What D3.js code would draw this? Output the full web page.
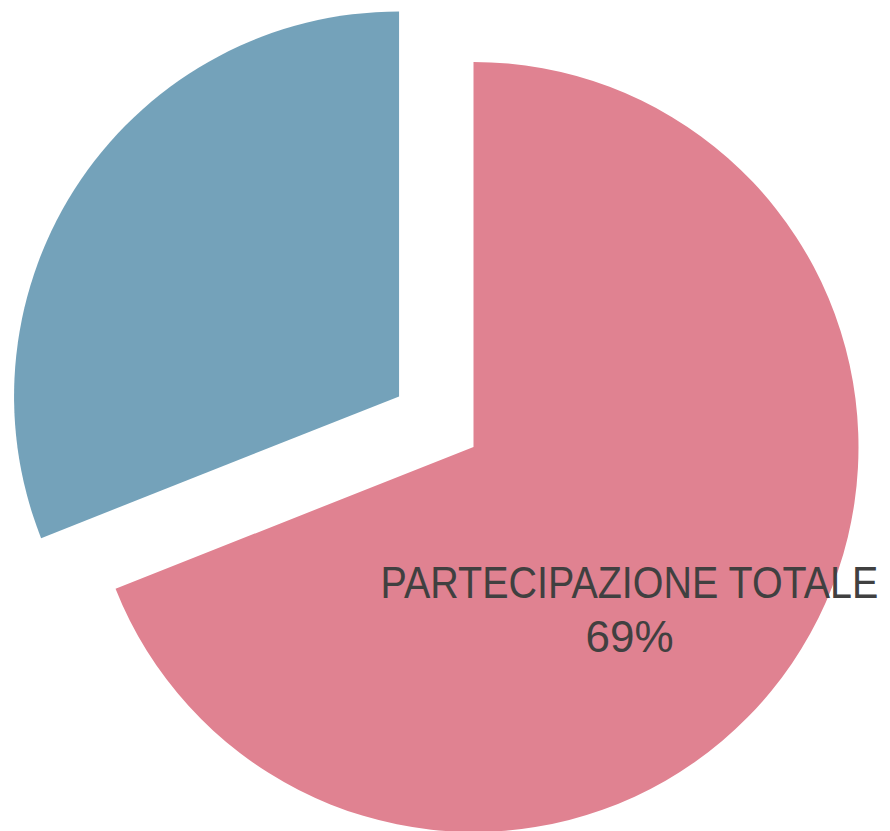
<!DOCTYPE html>
<html>
<head>
<meta charset="utf-8">
<script src="https://cdn.jsdelivr.net/npm/d3@7"></script>
<style>
  html, body { margin: 0; padding: 0; background: #fff; }
  svg { display: block; }
</style>
</head>
<body>
<div id="graph"></div>
<script>
// data
const categories = ['PARTECIPAZIONE TOTALE', 'ALTRO'];
const values = [69, 31];
const colors = ['#e08291', '#74a2ba'];
const showLabel = [true, false];

// size and layout
const svgWidth = 890;
const svgHeight = 831;
const cx = 473.5;
const cy = 447;
const radius = 385;
const explode = 90; // the small slice is pulled out
const labelDx = 156; // label position relative to the centre
const labelDy = 151;
const labelWidth = 498; // the original font is narrow, so squeeze the name

const svg = d3.select('#graph')
  .append('svg')
  .attr('width', svgWidth)
  .attr('height', svgHeight);

const g = svg.append('g')
  .attr('transform', `translate(${cx}, ${cy})`);

const pie = d3.pie().sort(null).value(d => d.value);
const arc = d3.arc().innerRadius(0).outerRadius(radius);

const data = categories.map((c, i) => ({ name: c, value: values[i], color: colors[i], label: showLabel[i] }));
const arcs = pie(data);
const total = d3.sum(values);

g.selectAll('path.slice')
  .data(arcs)
  .join('path')
  .attr('class', 'slice')
  .attr('d', arc)
  .attr('fill', d => d.data.color)
  .attr('transform', (d, i) => {
    if (i === 0) return null;
    const mid = (d.startAngle + d.endAngle) / 2;
    return `translate(${Math.sin(mid) * explode}, ${-Math.cos(mid) * explode})`;
  });

// label for the big slice
const lab = g.selectAll('g.label')
  .data(arcs.filter(d => d.data.label))
  .join('g')
  .attr('class', 'label')
  .attr('transform', `translate(${labelDx}, ${labelDy})`)
  .attr('text-anchor', 'middle')
  .attr('fill', '#404040')
  .style('font-family', '"Liberation Sans", Arial, sans-serif');

const nameText = lab.append('text')
  .attr('x', 0)
  .attr('y', 0)
  .style('font-size', '45px')
  .text(d => d.data.name);

// squeeze horizontally instead of textLength
nameText.attr('transform', function() {
  const w = this.getComputedTextLength();
  return `scale(${labelWidth / w}, 1)`;
});

lab.append('text')
  .attr('x', 0)
  .attr('y', 54)
  .style('font-size', '44px')
  .text(d => Math.round(d.data.value / total * 100) + '%');
</script>
</body>
</html>
